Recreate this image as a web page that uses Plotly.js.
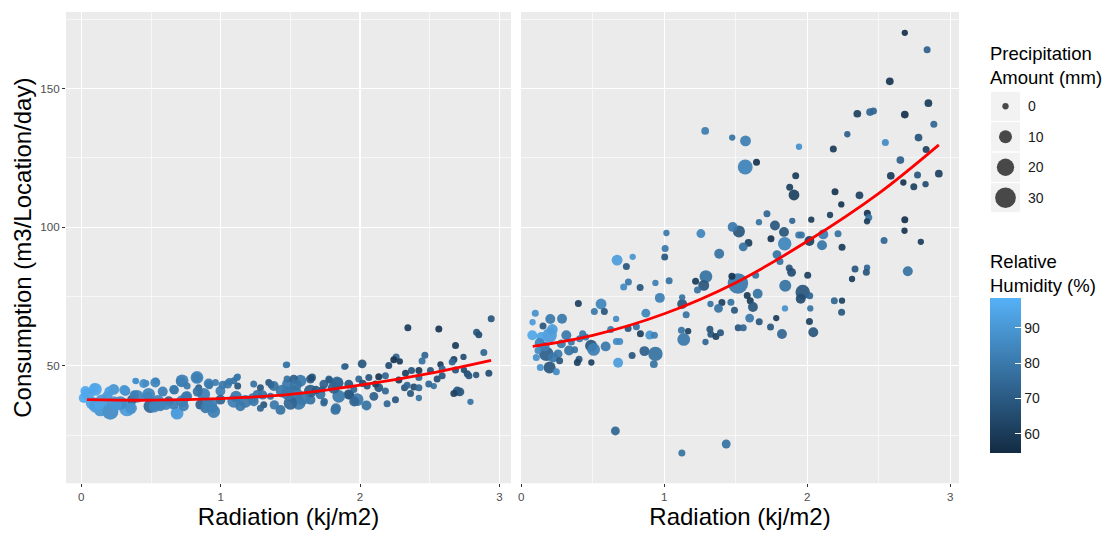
<!DOCTYPE html>
<html>
<head>
<meta charset="utf-8">
<script src="https://cdn.plot.ly/plotly-3.0.1.min.js"></script>
<style>
  html, body { margin: 0; padding: 0; background: #ffffff; }
  #chart { width: 1113px; height: 533px; }
</style>
</head>
<body>
<div id="chart"></div>
<script>
// ---------------- data ----------------
// Left panel
const radL = [2.941,2.343,2.565,2.836,2.852,2.685,2.888,2.742,2.673,2.661,
  2.465,2.259,2.242,2.285,2.206,2.015,1.895,1.476,2.445,2.577,
  2.589,2.553,2.745,2.769,2.781,2.833,2.924,2.685,2.529,2.697,
  2.716,2.673,2.792,2.422,2.362,2.319,2.278,2.422,2.422,2.386,
  2.254,2.194,2.338,2.369,2.326,2.182,2.134,2.063,1.991,2.099,
  2.046,1.979,1.919,1.823,1.847,1.835,1.919,1.740,1.776,1.728,
  1.656,1.644,1.572,1.524,1.476,1.441,1.381,1.357,1.429,1.560,
  1.644,1.716,1.309,1.285,1.261,1.237,1.177,1.117,1.122,1.094,
  1.050,0.998,0.962,0.926,0.950,0.854,0.878,0.830,0.914,0.723,
  0.759,0.687,0.663,0.627,0.567,0.531,0.483,0.495,0.447,0.388,
  0.400,0.328,0.280,0.316,0.232,0.208,0.148,0.136,0.101,0.045,
  0.077,0.184,0.029,0.364,0.735,1.094,1.141,1.500,2.134,1.740,
  1.812,2.182,2.111,2.051,1.955,2.422,2.493,2.589,2.505,1.285,
  1.237,1.345,1.476,1.524,1.644,0.723,0.549,0.663,0.232,0.101,
  0.842,0.998,0.890,0.017,0.759,
  0.034,0.093,0.129,0.201,0.249,0.308,0.357,0.380,0.392,0.464,
  0.476,0.536,0.524,0.584,0.608,0.679,0.715,0.667,0.751,0.828,
  0.835,0.918,0.907,0.943,1.014,1.062,1.110,1.122,1.230,1.301,
  1.361,1.385,1.468,1.481,1.540,1.588,1.648,1.684,1.743,1.779,
  1.839,1.827,1.887,1.923,1.958,2.019];
const consL = [67.0,63.7,63.3,62.1,61.2,57.3,54.8,53.2,52.3,51.4,
  53.8,53.2,52.2,51.6,50.1,50.7,49.8,50.4,51.7,50.5,
  48.9,45.2,48.5,47.1,46.4,46.7,47.3,48.5,42.7,40.9,
  40.6,40.0,37.0,38.4,40.0,42.1,44.9,45.8,48.3,42.4,
  37.8,36.3,43.0,48.3,47.3,46.4,46.1,45.8,45.2,39.0,
  35.7,37.8,39.7,34.1,39.0,44.0,43.4,36.6,45.2,41.5,
  45.8,37.8,44.6,39.7,43.4,40.9,42.7,39.0,34.1,36.6,
  40.9,39.7,36.0,34.7,39.7,37.2,37.2,45.8,42.7,44.6,
  43.4,40.9,44.0,36.0,33.5,36.0,39.7,45.8,43.6,44.6,
  39.0,32.9,41.5,37.2,35.4,44.0,39.7,35.4,43.6,44.6,
  39.0,34.7,36.6,40.9,41.5,33.5,37.2,34.1,41.5,39.7,
  36.6,39.0,40.9,37.8,35.4,37.2,35.4,36.6,42.1,43.4,
  42.1,40.9,43.4,42.7,41.5,42.1,43.4,46.4,48.3,42.1,
  43.4,44.0,45.2,45.2,45.2,37.2,37.2,36.0,36.6,35.4,
  42.1,37.8,34.7,38.4,42.7,
  40.1,41.9,35.9,40.7,35.9,41.3,34.7,39.5,44.5,43.7,
  38.9,44.5,35.3,40.7,35.9,32.9,44.3,41.3,38.9,45.7,
  40.7,43.1,35.9,34.7,43.1,44.3,38.9,46.1,38.3,39.5,
  43.1,35.9,50.3,40.1,43.1,38.3,45.5,41.3,37.1,44.9,
  43.7,34.7,49.7,39.5,37.1,43.7];
const precL = [0.7,0.7,0.7,0.7,0.7,0.7,0.7,0,0.7,0.7,
  0.7,0.7,0.7,0,0.7,3,0,0,0.7,0,
  0.7,0.7,0,0.7,0.7,0,0.7,0.7,0,3,
  3,0.7,0,0,0.7,0.7,0.7,0.7,0.7,0.7,
  0.7,0.7,0.7,0.7,0.7,0.7,0.7,0.7,0.7,3,
  4.5,9.5,4.5,4.5,9.5,8,3,0.7,0.7,0.7,
  1.5,4.5,8,20,4.5,9.5,4.5,0.7,4.5,11,
  9.5,4.5,0.7,0.7,3,4.5,9.5,0.7,0.7,0.7,
  3,4.5,0.7,11,9.5,4.5,9.5,9.5,4.5,9.5,
  4.5,9.5,3,4.5,4.5,4.5,9.5,11,3,0,
  9.5,17,11,4.5,6,17,11,9.5,9.5,9.5,
  9.5,4.5,4.5,4.5,4.5,9.5,4.5,11,3,3,
  8,0.7,0.7,0.7,0.7,0.7,0.7,0.7,0.7,0.7,
  0.7,0.7,0.7,3,3,8,9.5,4.5,11,9.5,
  0.7,4.5,4.5,4.5,0.7,
  2.3,4.6,4.6,4.6,7.4,4.6,7.4,3.6,0,0.4,
  4.6,0.2,7.4,4.6,4.6,3.6,4.6,3.6,4.6,4.6,
  4.6,2.3,7.4,4.6,2.3,1.0,7.4,0,4.6,3.6,
  0.4,3.6,0,10.6,7.4,10.6,0.4,2.3,1.0,1.0,
  7.4,4.6,0,3.6,4.6,1.0];
const humL = [69,60,58,69,66,60,74,66,62,74,
  74,74,58,60,66,69,69,78,78,60,
  74,66,66,66,69,69,66,69,78,69,
  69,62,78,78,69,69,60,74,60,66,
  69,74,74,69,62,74,58,69,74,72,
  78,80,69,78,80,78,69,78,78,69,
  69,78,80,80,80,80,78,78,78,80,
  72,78,69,74,78,80,80,78,69,78,
  80,82,82,82,82,72,82,84,82,82,
  82,91,84,72,82,84,84,74,88,91,
  84,91,86,86,89,86,91,89,95,95,
  94,91,96,74,82,82,80,74,69,72,
  72,74,62,69,74,74,74,69,69,69,
  78,69,78,72,72,82,84,82,89,92,
  72,74,80,96,80,
  95,95,94,92,90,90,88,82,88,86,
  84,84,84,82,84,92,82,80,80,82,
  78,80,82,82,80,80,80,80,80,78,
  74,80,80,80,78,80,66,70,74,70,
  74,78,74,70,74,66];

// Right panel
const radR = [2.682,2.838,2.577,2.847,2.682,2.350,2.439,2.463,2.885,2.280,
  1.286,1.475,1.568,2.778,2.546,2.182,1.942,2.831,1.645,1.566,
  2.651,2.584,2.920,2.771,2.672,2.745,2.827,1.919,1.877,1.907,
  2.194,2.365,2.238,1.718,1.662,1.774,1.895,2.028,2.159,2.420,
  2.430,2.418,2.682,2.680,2.794,2.537,2.215,2.112,2.103,2.243,
  2.015,1.940,1.959,1.837,1.842,1.746,1.589,1.552,1.522,1.478,
  1.256,1.015,1.006,1.003,1.384,0.670,0.779,0.735,1.034,0.938,
  0.749,0.716,0.831,1.291,1.219,1.276,1.232,1.515,1.473,1.639,
  1.653,1.580,1.601,1.620,1.846,1.874,1.890,1.788,1.809,2.003,
  1.968,1.954,2.017,2.021,2.015,2.042,1.823,1.743,1.783,1.844,
  2.189,2.243,2.240,2.334,2.313,2.418,2.413,2.703,1.125,1.125,
  1.153,1.120,1.136,1.167,1.288,1.319,1.326,1.361,1.393,1.403,
  1.379,1.323,1.466,1.491,1.517,1.552,1.597,1.664,0.969,0.871,
  0.399,0.558,0.511,0.581,0.663,0.098,0.203,0.285,0.079,0.152,
  0.625,0.747,0.805,0.833,0.898,0.931,0.688,0.665,0.590,0.488,
  0.506,0.450,0.429,0.861,0.938,0.927,0.677,0.775,0.490,0.404,
  0.392,0.373,0.334,0.315,0.198,0.217,0.077,0.140,0.128,0.175,
  0.117,0.105,0.198,0.133,0.245,0.257,0.280,0.408,0.350,0.163,
  0.222,0.268,0.658,1.433,1.123];
const consR = [170.1,164.0,152.6,144.7,140.6,140.9,141.5,141.9,137.1,133.5,
  134.7,132.3,131.1,132.3,130.5,128.2,129.0,128.0,123.4,121.7,
  124.2,118.5,119.3,118.8,116.1,114.6,115.5,118.5,114.4,111.6,
  112.8,111.5,108.2,104.8,101.8,100.6,102.3,102.7,104.4,105.0,
  103.5,102.1,102.7,98.7,94.7,95.2,97.6,97.4,93.5,92.8,
  95.0,97.2,97.2,98.3,94.0,95.8,94.3,92.9,98.4,100.1,
  97.7,97.9,92.3,89.2,90.4,88.1,89.3,85.8,80.7,79.9,
  80.2,78.4,78.2,82.2,80.5,79.0,77.3,79.7,82.3,82.7,
  76.0,75.4,73.5,71.2,78.9,85.3,83.7,90.1,87.6,82.7,
  76.6,74.2,75.3,70.7,66.0,62.1,61.5,64.0,67.2,70.7,
  73.5,73.5,69.3,84.9,81.3,85.4,83.7,84.1,72.3,74.7,
  68.4,62.8,59.5,62.5,58.6,63.2,61.4,60.6,61.9,72.8,
  70.7,72.3,72.9,70.0,63.7,63.7,67.2,65.9,74.5,69.0,
  72.5,72.3,69.6,69.6,66.9,69.0,66.9,67.0,65.7,64.4,
  63.1,63.5,64.1,61.6,61.1,61.0,58.8,58.8,57.0,57.2,
  55.9,60.4,61.6,55.3,54.3,50.6,51.1,53.7,51.2,52.4,
  51.2,55.8,55.5,61.0,61.0,63.1,61.0,60.4,58.2,54.3,
  55.5,53.0,49.4,49.4,47.9,54.3,57.9,59.8,58.6,57.0,
  53.0,51.8,26.5,21.8,18.6];
const precR = [0,0.7,1.5,1.5,1.5,1.5,1.5,0.7,0.7,0,
  1.5,0,6,1.5,0.7,0.7,0,0.7,0.7,14,
  1.5,1.5,1.5,0.7,0,0.7,0,0.7,0.7,6,
  0.7,1.5,0,0.7,0,4.5,0,0,0,0.7,
  0.7,0,0.7,0,0,0.7,0.7,4.5,4.5,0.7,
  4.5,0.7,0.7,4.5,11,0.7,1.5,3,8,4.5,
  3,0,0.7,0.7,4.5,6,0,0.7,0.7,0,
  0.7,0.7,0.7,9.5,0.7,6,0.7,29,0.7,0.7,
  4.5,0.7,0.7,4.5,8,0.7,3,3,0.7,0.7,
  13,4.5,0.7,0,0.7,4.5,4.5,0.7,0,0,
  0.7,0,0.7,0.7,0,0,0.7,4.5,4.5,0,
  0.7,0.7,9.5,0,0,0.7,0.7,0.7,0.7,0.7,
  3,0,0.7,0.7,0.7,0.7,3,0.7,4.5,3,
  0.7,6,0.7,0.7,0,0.7,4.5,4.5,0,0.7,
  0.7,0.7,0.7,0.7,3,0.7,0.7,0.7,4.5,8,
  9.5,0.7,0.7,4.5,13,1.5,4.5,0.7,0,0.7,
  0.7,0.7,4.5,4.5,13,6,4.5,4.5,4.5,13,
  0.7,0.7,8,0.7,0.7,3,3,0.7,0.7,4.5,
  4.5,0.7,3,3,0.7];
const humR = [57,72,58,60,57,62,74,74,74,72,
  81,78,82,68,86,60,88,62,58,83,
  72,60,62,69,58,62,66,60,62,62,
  58,62,58,74,78,69,74,60,62,58,
  78,60,56,58,60,74,78,81,79,60,
  62,80,78,69,84,58,62,78,69,80,
  84,80,80,69,78,92,89,69,78,82,
  80,86,69,78,60,69,78,80,58,78,
  78,60,60,69,78,69,66,78,78,62,
  69,66,74,78,62,69,74,69,60,88,
  74,62,69,69,60,74,69,78,69,78,
  78,78,80,62,74,69,69,62,69,62,
  78,78,78,69,69,74,80,69,82,84,
  62,84,80,69,86,88,80,80,91,69,
  80,69,78,62,89,82,86,86,80,69,
  82,80,80,72,78,78,92,69,62,69,
  62,78,78,80,91,92,95,94,84,72,
  86,88,69,89,86,80,80,80,80,82,
  80,69,74,78,78];

// Fitted curves
const fitRadL  = [0.04, 0.5, 1.0, 1.5, 2.0, 2.5, 2.94];
const fitConsL = [37.8, 37.6, 38.2, 39.7, 43.0, 47.3, 52.0];
const fitRadR  = [0.08, 0.5, 1.0, 1.5, 2.0, 2.5, 2.92];
const fitConsR = [57.0, 61.0, 68.8, 80.0, 94.9, 112.2, 129.7];

// Guides / ticks
const xTicks = [0, 1, 2, 3];
const yTicks = [50, 100, 150];
const precipKeys = [0, 10, 20, 30];
const humidityTicks = [60, 70, 80, 90];
const xTitle = 'Radiation (kj/m2)';
const yTitle = 'Consumption (m3/Location/day)';
const precipTitle = 'Precipitation<br>Amount (mm)';
const humidTitle = 'Relative<br>Humidity (%)';

// ---------------- styling helpers ----------------
const FONT = 'Liberation Sans, Arial, Helvetica, sans-serif';
const W = 1113, H = 533;
const sizeOf = p => Math.sqrt(40 + 13 * p);   // area-proportional size scale
const px = v => v / W, py = v => 1 - v / H;

const scatterL = {
  type: 'scatter', mode: 'markers', x: radL, y: consL, xaxis: 'x', yaxis: 'y',
  marker: { size: precL.map(sizeOf), color: humL, coloraxis: 'coloraxis', opacity: 0.93, line: { width: 0 } },
  hoverinfo: 'skip', showlegend: false
};
const scatterR = {
  type: 'scatter', mode: 'markers', x: radR, y: consR, xaxis: 'x2', yaxis: 'y2',
  marker: { size: precR.map(sizeOf), color: humR, coloraxis: 'coloraxis', opacity: 0.93, line: { width: 0 } },
  hoverinfo: 'skip', showlegend: false
};
const fitL = {
  type: 'scatter', mode: 'lines', x: fitRadL, y: fitConsL, xaxis: 'x', yaxis: 'y',
  line: { color: '#FF0000', width: 2.8, shape: 'spline' }, hoverinfo: 'skip', showlegend: false
};
const fitR = {
  type: 'scatter', mode: 'lines', x: fitRadR, y: fitConsR, xaxis: 'x2', yaxis: 'y2',
  line: { color: '#FF0000', width: 2.8, shape: 'spline' }, hoverinfo: 'skip', showlegend: false
};
// size legend keys (drawn on a small auxiliary axis)
const keyIdx = precipKeys.map((_, i) => i);
const keyBoxes = {
  type: 'scatter', mode: 'markers', x: precipKeys.map(() => 0.5), y: keyIdx, xaxis: 'x3', yaxis: 'y3',
  marker: { symbol: 'square', size: 29, color: '#F2F2F2', line: { width: 0 } },
  hoverinfo: 'skip', showlegend: false
};
const keyDots = {
  type: 'scatter', mode: 'markers', x: precipKeys.map(() => 0.5), y: keyIdx, xaxis: 'x3', yaxis: 'y3',
  marker: { size: precipKeys.map(sizeOf), color: '#000000', line: { width: 0 } },
  hoverinfo: 'skip', showlegend: false
};

const tickFont = { family: FONT, size: 11.6, color: '#4D4D4D' };
const titleFont = { family: FONT, size: 24, color: '#000000' };
const yDomain = [py(483.3), py(12)];

function xAxis(domain, range, anchor) {
  return {
    domain, range, anchor, tickmode: 'array', tickvals: xTicks, ticktext: xTicks.map(String),
    ticks: 'outside', ticklen: 3, tickwidth: 1, tickcolor: '#333333', tickfont: tickFont,
    showgrid: true, gridcolor: '#FFFFFF', gridwidth: 1.3, zeroline: false, showline: false,
    minor: { tickmode: 'array', tickvals: [0.5, 1.5, 2.5], showgrid: true, gridcolor: '#FFFFFF', gridwidth: 0.6 },
    title: { text: xTitle, font: titleFont, standoff: 4 }, fixedrange: true
  };
}

const layout = {
  width: W, height: H,
  margin: { l: 0, r: 0, t: 0, b: 0, pad: 0 },
  paper_bgcolor: '#FFFFFF', plot_bgcolor: 'rgba(0,0,0,0)',
  font: { family: FONT },
  showlegend: false,
  xaxis: xAxis([px(66), px(511)], [-0.110, 3.083], 'y'),
  xaxis2: xAxis([px(521), px(959)], [-0.002, 3.061], 'y2'),
  yaxis: {
    domain: yDomain, range: [7.63, 177.6], anchor: 'x', tickmode: 'array', tickvals: yTicks, ticktext: yTicks.map(String),
    ticks: 'outside', ticklen: 3, tickwidth: 1, tickcolor: '#333333', tickfont: tickFont,
    showgrid: true, gridcolor: '#FFFFFF', gridwidth: 1.3, zeroline: false, showline: false,
    minor: { tickmode: 'array', tickvals: [25, 75, 125, 175], showgrid: true, gridcolor: '#FFFFFF', gridwidth: 0.6 },
    title: { text: yTitle, font: titleFont, standoff: 1 }, fixedrange: true
  },
  yaxis2: {
    domain: yDomain, matches: 'y', anchor: 'x2', tickmode: 'array', tickvals: yTicks,
    showticklabels: false, ticks: '',
    showgrid: true, gridcolor: '#FFFFFF', gridwidth: 1.3, zeroline: false, showline: false,
    minor: { tickmode: 'array', tickvals: [25, 75, 125, 175], showgrid: true, gridcolor: '#FFFFFF', gridwidth: 0.6 },
    fixedrange: true
  },
  xaxis3: { domain: [px(991), px(1020)], range: [0, 1], anchor: 'y3', visible: false, fixedrange: true },
  yaxis3: { domain: [py(213), py(91)], range: [3.5, -0.5], anchor: 'x3', visible: false, fixedrange: true },
  coloraxis: {
    cmin: 54.6, cmax: 98.4,
    colorscale: [[0, '#132B43'], [1, '#56B1F7']],
    colorbar: {
      x: px(990), xanchor: 'left', xpad: 0, ypad: 0,
      y: py(375.5), yanchor: 'middle',
      thickness: 31, thicknessmode: 'pixels', len: 155, lenmode: 'pixels',
      outlinewidth: 0, tickmode: 'array', tickvals: humidityTicks, ticktext: humidityTicks.map(String),
      ticks: 'inside', ticklen: 6, tickwidth: 1, tickcolor: '#FFFFFF',
      tickfont: { family: FONT, size: 14, color: '#1A1A1A' }
    }
  },
  shapes: [
    { type: 'rect', xref: 'x domain', yref: 'y domain', x0: 0, x1: 1, y0: 0, y1: 1, fillcolor: '#EBEBEB', line: { width: 0 }, layer: 'below' },
    { type: 'rect', xref: 'x2 domain', yref: 'y2 domain', x0: 0, x1: 1, y0: 0, y1: 1, fillcolor: '#EBEBEB', line: { width: 0 }, layer: 'below' }
  ],
  annotations: [
    { xref: 'paper', yref: 'paper', x: px(988), y: py(65.8), xanchor: 'left', yanchor: 'middle', align: 'left',
      text: precipTitle, showarrow: false, font: { family: FONT, size: 18.5, color: '#000000' } },
    { xref: 'paper', yref: 'paper', x: px(988), y: py(273.5), xanchor: 'left', yanchor: 'middle', align: 'left',
      text: humidTitle, showarrow: false, font: { family: FONT, size: 18.5, color: '#000000' } }
  ].concat(precipKeys.map((k, i) => ({
    xref: 'paper', yref: 'y3', x: px(1026), y: i, xanchor: 'left', yanchor: 'middle',
    text: String(k), showarrow: false, font: { family: FONT, size: 14, color: '#1A1A1A' }
  })))
};

Plotly.newPlot('chart', [keyBoxes, keyDots, scatterL, scatterR, fitL, fitR], layout,
  { displayModeBar: false, staticPlot: true });
</script>
</body>
</html>
